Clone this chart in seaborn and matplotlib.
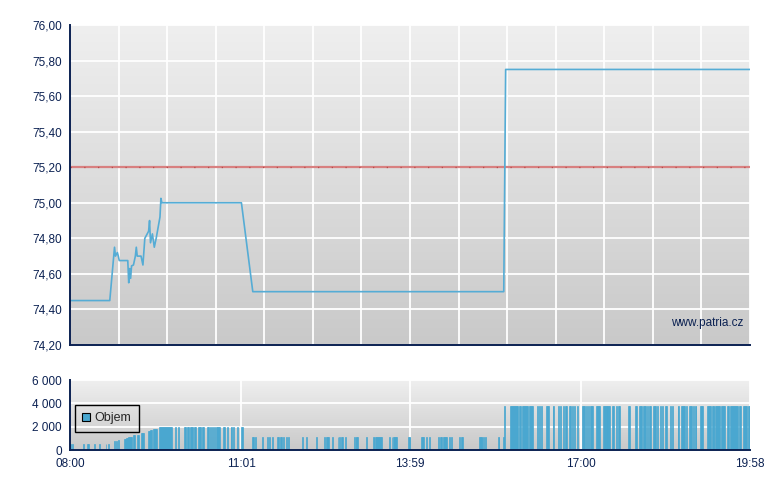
import numpy as np
import pandas as pd
import matplotlib
matplotlib.use("Agg")
import matplotlib.pyplot as plt
from matplotlib.colors import LinearSegmentedColormap
from matplotlib.patches import Patch
import seaborn as sns

# ---------------- data ----------------
# price series: minutes after 08:00, price
price_minutes = [0, 42, 47, 48, 50, 51, 52, 61, 62, 63, 64, 65, 67, 69, 70, 71, 75, 77,
                 79, 83, 84, 85, 87, 89, 91, 95, 96, 97, 181, 193, 458, 460, 718]
price_values = [74.45, 74.45, 74.75, 74.70, 74.72, 74.70, 74.675, 74.675, 74.55, 74.63,
                74.575, 74.645, 74.65, 74.70, 74.75, 74.70, 74.70, 74.65, 74.80, 74.84,
                74.90, 74.775, 74.825, 74.75, 74.80, 74.92, 75.025, 75.00, 75.00, 74.50,
                74.50, 75.75, 75.75]
reference_price = 75.20

# volume: runs of consecutive minutes (first, last) with volume per minute
vol_first = [1, 3, 14, 18, 26, 31, 38, 41,
             47, 49, 51, 58, 60, 62, 64, 67, 71, 75, 77, 83, 85, 88, 95,
             111, 115, 121, 124, 127, 131, 133, 136, 140, 145, 148, 150, 153, 155, 162, 166,
             170, 173, 177, 181,
             193, 196, 203, 209, 211, 214, 219, 222, 225, 229, 231, 245, 250, 260, 269, 271,
             277, 283, 285, 287, 291, 300, 302, 313, 320, 323, 337, 340, 342, 357, 371, 376,
             380, 389, 391, 394, 398, 401, 403, 411, 413, 432, 437, 439, 452, 458,
             459, 465, 475, 478, 485, 494, 496, 498, 503, 510, 516, 518, 521, 523, 527, 531,
             533, 536, 541, 545, 547, 550, 556, 563, 573, 577, 579, 590, 597, 601, 606, 610,
             612, 616, 620, 623, 626, 629, 634, 636, 642, 646, 651, 654, 658, 660, 666, 673,
             678, 682, 688, 694, 697, 700, 707, 711, 716]
vol_last = [1, 3, 14, 20, 26, 31, 38, 41,
            47, 49, 51, 59, 61, 63, 65, 68, 72, 76, 78, 84, 86, 91, 107,
            111, 115, 122, 125, 129, 131, 133, 138, 141, 146, 148, 150, 153, 158, 163, 166,
            171, 173, 177, 182,
            194, 196, 203, 209, 211, 214, 220, 223, 225, 229, 231, 245, 250, 260, 269, 273,
            277, 283, 285, 288, 291, 300, 304, 313, 321, 329, 337, 340, 345, 359, 373, 376,
            380, 389, 392, 396, 398, 401, 403, 411, 414, 435, 437, 439, 453, 458,
            459, 473, 476, 483, 488, 494, 496, 498, 505, 511, 516, 518, 521, 524, 528, 531,
            533, 536, 543, 545, 547, 552, 559, 570, 574, 577, 580, 591, 598, 603, 608, 610,
            613, 618, 620, 623, 626, 630, 634, 636, 643, 649, 651, 656, 658, 661, 668, 676,
            680, 686, 691, 695, 698, 705, 708, 714, 717]
vol_value = [530] * 8 + \
            [740, 790, 820, 970, 1060, 1090, 1150, 1265, 1320, 1440, 1470, 1650, 1680, 1760, 1940] + \
            [1940] * 20 + \
            [1150] * 46 + \
            [3780] * 58

y_ticks_price = [74.2, 74.4, 74.6, 74.8, 75.0, 75.2, 75.4, 75.6, 75.8, 76.0]
y_ticks_vol = [0, 2000, 4000, 6000]
time_tick_minutes = [0, 181, 359, 540, 718]
time_tick_labels = ["08:00", "11:01", "13:59", "17:00", "19:58"]
legend_label = "Objem"
watermark = "www.patria.cz"

# expand runs into per-minute records
vm, vv = [], []
for a, b, v in zip(vol_first, vol_last, vol_value):
    for m in range(a, b + 1):
        vm.append(m)
        vv.append(v)
vol_df = pd.DataFrame({"minute": vm, "volume": vv})
price_df = pd.DataFrame({"minute": price_minutes, "price": price_values})

# ---------------- style ----------------
sns.set_theme(style="white")
plt.rcParams["font.family"] = ["Liberation Sans", "DejaVu Sans"]
NAVY = "#0b2152"
BLUE = "#48a7d0"
LINE = "#55acd5"
grad = LinearSegmentedColormap.from_list("g", ["#efefef", "#c9c9c9"])

fig = plt.figure(figsize=(7.8, 4.9), dpi=100)
ax1 = fig.add_axes([70 / 780, 1 - 345 / 490, 680 / 780, 320 / 490])
ax2 = fig.add_axes([70 / 780, 1 - 450 / 490, 680 / 780, 70 / 490])

XMAX = 718


def style_axes(ax, ymin, ymax):
    ax.set_xlim(0, XMAX)
    ax.set_ylim(ymin, ymax)
    ax.imshow(np.linspace(0, 1, 256).reshape(-1, 1), cmap=grad, aspect="auto",
              extent=[0, XMAX, ymin, ymax], zorder=-2, interpolation="bilinear")
    ax.set_axisbelow(True)
    ax.grid(True, color="white", linewidth=1.3)
    for s in ["top", "right"]:
        ax.spines[s].set_visible(False)
    for s in ["left", "bottom"]:
        ax.spines[s].set_color(NAVY)
        ax.spines[s].set_linewidth(1.4)
        ax.spines[s].set_zorder(5)
    ax.tick_params(direction="out", length=4, width=1.2, color=NAVY,
                   labelcolor=NAVY, labelsize=8.5, pad=2)
    ax.set_xlabel("")
    ax.set_ylabel("")


# ---- price panel ----
style_axes(ax1, 74.2, 76.0)
ax1.axhline(reference_price, color="#d88080", linewidth=1.6, zorder=3)
ax1.axhline(reference_price, color="#b84a4a", linewidth=0.9, linestyle=(0, (1, 10)), zorder=3)
sns.lineplot(data=price_df, x="minute", y="price", ax=ax1, color=LINE,
             linewidth=1.2, estimator=None, zorder=4)
ax1.set_xlabel("")
ax1.set_ylabel("")
ax1.set_yticks(y_ticks_price)
ax1.set_yticklabels([f"{v:.2f}".replace(".", ",") for v in y_ticks_price])
ax1.set_xticks(np.linspace(0, XMAX, 15))
ax1.set_xticklabels([])
ax1.set_xlim(0, XMAX)
ax1.set_ylim(74.2, 76.0)
ax1.text(0.99, 0.069, watermark, transform=ax1.transAxes, ha="right", va="center",
         color=NAVY, fontsize=8.5, zorder=6)

# ---- volume panel ----
style_axes(ax2, 0, 6000)
sns.histplot(data=vol_df, x="minute", weights="volume", discrete=True, ax=ax2,
             color=BLUE, alpha=1, linewidth=0.5, edgecolor=BLUE, zorder=2)
ax2.set_xlabel("")
ax2.set_ylabel("")
ax2.set_xlim(0, XMAX)
ax2.set_ylim(0, 6000)
ax2.set_yticks(y_ticks_vol)
ax2.set_yticklabels([f"{v:,}".replace(",", " ") for v in y_ticks_vol])
ax2.set_xticks(time_tick_minutes)
ax2.set_xticklabels(time_tick_labels)
leg = ax2.legend(handles=[Patch(facecolor=BLUE, edgecolor="black", linewidth=0.8,
                                label=legend_label)],
                 loc="upper left", bbox_to_anchor=(0.007, 0.645), frameon=True,
                 fancybox=False, fontsize=9,
                 handlelength=0.6, handleheight=0.6, handletextpad=0.4,
                 borderpad=0.6, borderaxespad=0)
frame = leg.get_frame()
frame.set_facecolor("none")
frame.set_edgecolor("black")
frame.set_alpha(None)
frame.set_linewidth(1.0)
leg.set_zorder(10)

fig.savefig("out.png", dpi=100)
